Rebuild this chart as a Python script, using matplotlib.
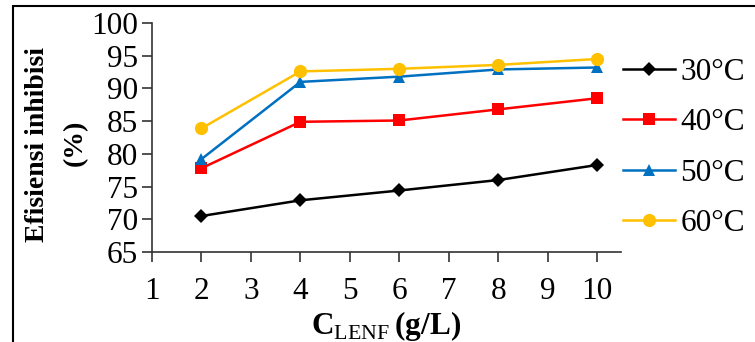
import matplotlib
matplotlib.use("Agg")
import matplotlib.pyplot as plt
from matplotlib.patches import Rectangle

x = [2, 4, 6, 8, 10]
labels = ["30°C", "40°C", "50°C", "60°C"]
s30 = [70.5, 72.9, 74.4, 76.0, 78.3]
s40 = [77.8, 84.9, 85.1, 86.8, 88.5]
s50 = [79.2, 91.0, 91.8, 92.9, 93.2]
s60 = [83.9, 92.6, 93.0, 93.6, 94.5]
xticks = list(range(1, 11))
yticks = list(range(65, 101, 5))

colors = ["#000000", "#FF0000", "#0070C0", "#FFC000"]
markers = ["D", "s", "^", "o"]
msizes = [7, 8, 9, 9.5]

plt.rcParams['font.family'] = ['Liberation Serif', 'DejaVu Serif']
plt.rcParams['mathtext.fontset'] = 'custom'
plt.rcParams['mathtext.rm'] = 'Liberation Serif'
plt.rcParams['mathtext.bf'] = 'Liberation Serif:bold'

fig = plt.figure(figsize=(7.55, 3.42), dpi=100)
ax = fig.add_axes([152/755, 1-252/342, (621-152)/755, (252-23)/342])

for ys, lab, c, m, ms in zip([s30, s40, s50, s60], labels, colors, markers, msizes):
    ax.plot(x, ys, color=c, marker=m, markersize=ms, linewidth=1.8, label=lab,
            markeredgewidth=0)

ax.set_xlim(1, 10.48)
ax.set_ylim(65, 100)
ax.set_xticks(xticks)
ax.set_yticks(yticks)
ax.tick_params(axis='both', labelsize=22.5, direction='out', length=7, width=1.2, color='#333333')
ax.tick_params(axis='x', pad=11)
ax.tick_params(axis='y', pad=3)
for s in ['top', 'right']:
    ax.spines[s].set_visible(False)
for s in ['left', 'bottom']:
    ax.spines[s].set_color('#333333')
    ax.spines[s].set_linewidth(1.2)

fig.text(38/755, 1-144/342, "Efisiensi inhibisi", fontsize=20, fontweight='bold',
         rotation=90, ha='center', va='center')
fig.text(75/755, 1-143/342, "(%)", fontsize=20, fontweight='bold',
         rotation=90, ha='center', va='center')
ax.set_xlabel(r"$\mathbf{C}_{\mathrm{LENF}}\,\mathbf{(g/L)}$", fontsize=22.5, labelpad=2)

leg = fig.legend(loc='center left', bbox_to_anchor=(623/755, 1-148/342), frameon=False,
                 fontsize=22.5, handlelength=1.65, handletextpad=0.18, labelspacing=0.68,
                 borderaxespad=0, borderpad=0)

fig.patches.append(Rectangle((13/755, -0.1), 1.2, 1 - 6/342 + 0.1, transform=fig.transFigure,
                             fill=False, edgecolor='black', linewidth=1.5))

fig.savefig("out.png", dpi=100)
